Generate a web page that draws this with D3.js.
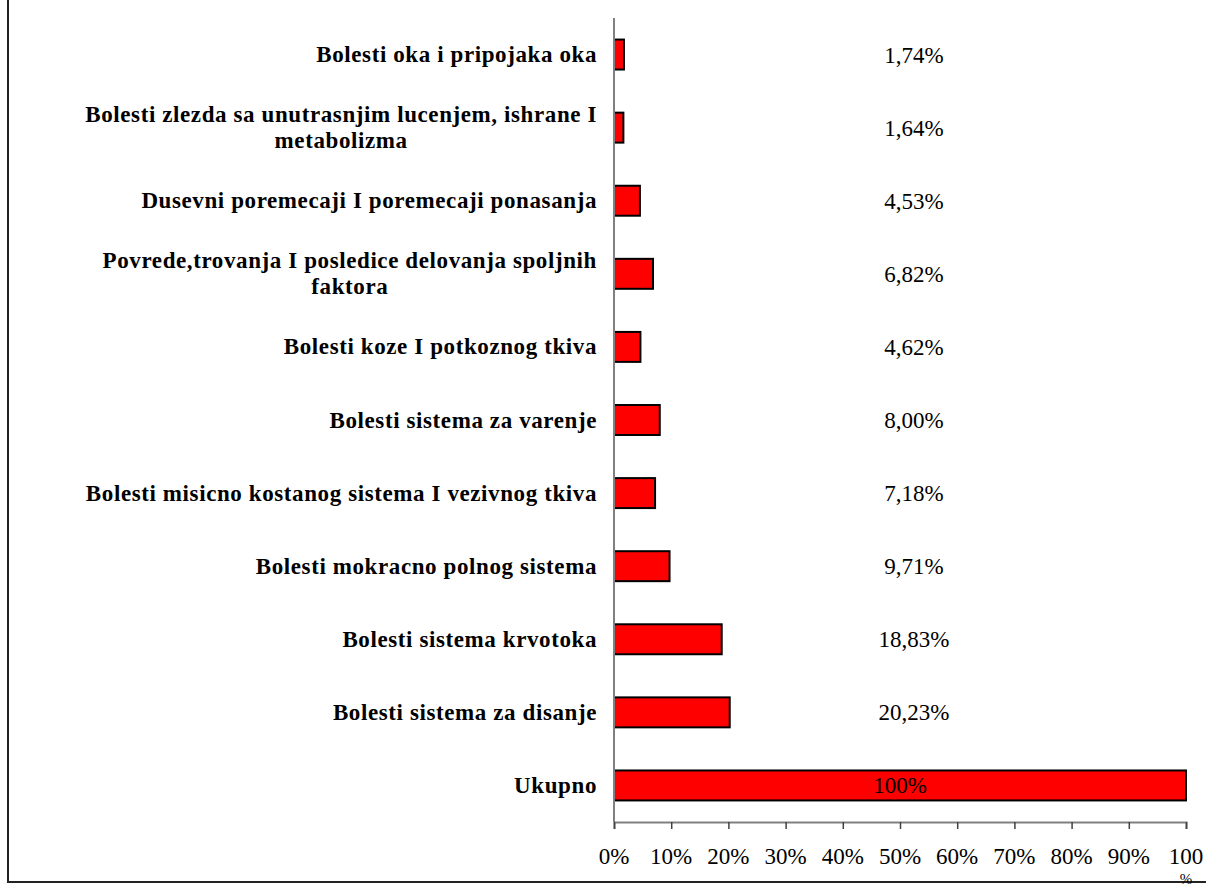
<!DOCTYPE html>
<html>
<head>
<meta charset="utf-8">
<script src="https://cdn.jsdelivr.net/npm/d3@7"></script>
<style>
  html, body { margin: 0; padding: 0; background: #fff; }
  svg { display: block; }
  text { font-family: "Liberation Serif", "Times New Roman", serif; fill: #000; }
</style>
</head>
<body>
<svg id="chart" width="1206" height="888"></svg>
<script>
// Categories, top to bottom; multi-line labels split by "\n"
const categories = [
  "Bolesti oka i pripojaka oka",
  "Bolesti zlezda sa unutrasnjim lucenjem, ishrane I\nmetabolizma",
  "Dusevni poremecaji I poremecaji ponasanja",
  "Povrede,trovanja I posledice delovanja spoljnih\nfaktora",
  "Bolesti koze I potkoznog tkiva",
  "Bolesti sistema za varenje",
  "Bolesti misicno kostanog sistema I vezivnog tkiva",
  "Bolesti mokracno polnog sistema",
  "Bolesti sistema krvotoka",
  "Bolesti sistema za disanje",
  "Ukupno"
];
const values = [1.74, 1.64, 4.53, 6.82, 4.62, 8.00, 7.18, 9.71, 18.83, 20.23, 100];
const valueLabels = ["1,74%", "1,64%", "4,53%", "6,82%", "4,62%", "8,00%", "7,18%", "9,71%", "18,83%", "20,23%", "100%"];
const tickValues = [0, 10, 20, 30, 40, 50, 60, 70, 80, 90, 100];
const tickLabels = ["0%", "10%", "20%", "30%", "40%", "50%", "60%", "70%", "80%", "90%", "100\n%"];

const svg = d3.select("#chart");

// outer chart frame
svg.append("rect")
  .attr("x", 8).attr("y", -10)
  .attr("width", 1220).attr("height", 892)
  .attr("fill", "none").attr("stroke", "#222").attr("stroke-width", 2);

const x = d3.scaleLinear().domain([0, 100]).range([614, 1186]);
const y = d3.scaleBand().domain(categories).range([18, 822])
  .paddingInner(0.59).paddingOuter(0.295);

const data = categories.map((c, i) => ({ cat: c, value: values[i], label: valueLabels[i] }));

// bars
svg.append("g").selectAll("rect")
  .data(data).join("rect")
  .attr("x", x(0))
  .attr("y", d => y(d.cat))
  .attr("width", d => x(d.value) - x(0))
  .attr("height", y.bandwidth())
  .attr("fill", "#ff0000")
  .attr("stroke", "#000")
  .attr("stroke-width", 2);

// value axis along the bottom
const xAxis = d3.axisBottom(x).tickValues(tickValues).tickSize(7).tickFormat(() => "");
const gx = svg.append("g").attr("transform", "translate(0,822)").call(xAxis);
gx.select(".domain").attr("stroke", "#808080").attr("stroke-width", 2);
gx.selectAll(".tick line").attr("stroke", "#404040").attr("stroke-width", 1.5);

// tick labels (last one wraps onto a second, smaller line)
const tl = svg.append("g").selectAll("text")
  .data(tickValues).join("text")
  .attr("x", d => x(d))
  .attr("y", 864)
  .attr("text-anchor", "middle")
  .style("font-size", "23px");
tl.each(function (d, i) {
  const lines = tickLabels[i].split("\n");
  d3.select(this).selectAll("tspan").data(lines).join("tspan")
    .attr("x", x(d))
    .attr("dy", (l, j) => j === 0 ? 0 : 20)
    .style("font-size", (l, j) => j === 0 ? null : "15px")
    .text(l => l);
});

// category axis line
svg.append("line")
  .attr("x1", x(0)).attr("x2", x(0))
  .attr("y1", 18).attr("y2", 822)
  .attr("stroke", "#808080").attr("stroke-width", 2);

// category labels, right-aligned block, lines centred within the block
const lineH = 26;
data.forEach(d => {
  const lines = d.cat.split("\n");
  const cy = y(d.cat) + y.bandwidth() / 2;
  const t = svg.append("text")
    .style("font-size", "23px")
    .style("font-weight", "bold")
    .style("letter-spacing", "0.6px")
    .attr("text-anchor", "middle");
  lines.forEach(l => {
    t.append("tspan").text(l);
  });
  // measure widest line, then place the block
  const widths = [];
  t.selectAll("tspan").each(function () { widths.push(this.getComputedTextLength()); });
  const w = d3.max(widths);
  const right = 597;
  const cx = right - w / 2;
  const first = cy + 7.5 - (lines.length - 1) * lineH / 2;
  t.selectAll("tspan")
    .attr("x", cx)
    .attr("y", (l, j) => first + j * lineH);
});

// value labels
svg.append("g").selectAll("text")
  .data(data).join("text")
  .attr("x", d => d.value >= 100 ? (x(0) + x(d.value)) / 2 : 914)
  .attr("y", d => y(d.cat) + y.bandwidth() / 2 + 8)
  .attr("text-anchor", "middle")
  .style("font-size", "23px")
  .text(d => d.label);
</script>
</body>
</html>
